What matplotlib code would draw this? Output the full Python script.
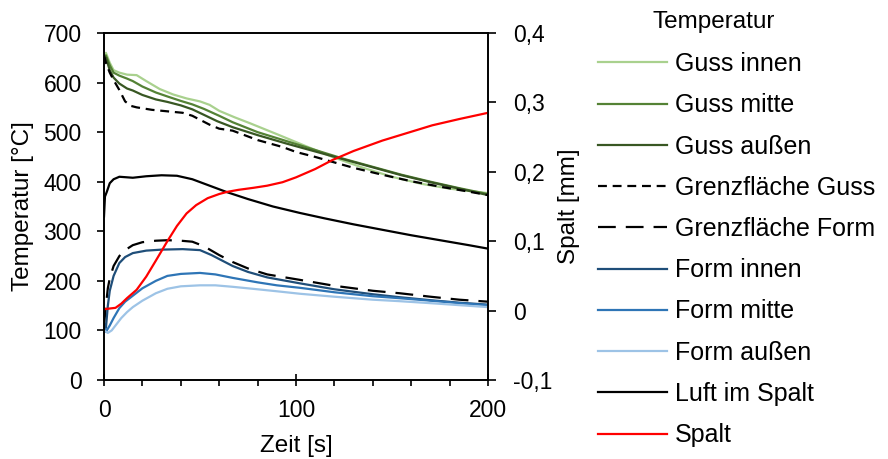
import matplotlib
matplotlib.use("Agg")
import matplotlib.pyplot as plt
from matplotlib.ticker import FuncFormatter, MultipleLocator

plt.rcParams['font.family'] = ['Liberation Sans', 'DejaVu Sans']

# ---- data ----
t_gi = [0, 1, 3, 5, 8, 12, 17, 22, 29, 36, 43, 50, 55, 60, 68, 76, 90, 105, 119, 135, 150, 165, 180, 200]
T_gi = [655, 660, 640, 625, 620, 616, 615, 603, 587, 576, 568, 562, 555, 543, 530, 518, 496, 472, 450, 428, 410, 396, 386, 377]

t_gm = [0, 1, 3, 5, 8, 12, 15, 20, 27, 33, 40, 46, 52, 60, 67, 80, 95, 110, 125, 140, 155, 170, 185, 200]
T_gm = [650, 655, 635, 620, 614, 608, 603, 592, 580, 572, 563, 556, 547, 533, 520, 500, 482, 464, 446, 430, 414, 400, 387, 375]

t_ga = [0, 1, 3, 5, 8, 12, 15, 20, 27, 33, 40, 46, 52, 59, 67, 80, 95, 110, 125, 140, 155, 170, 185, 200]
T_ga = [645, 650, 625, 610, 598, 588, 584, 575, 566, 561, 554, 546, 535, 522, 510, 494, 477, 461, 445, 429, 413, 399, 386, 373]

t_gfg = [0, 1, 3, 5, 8, 11, 14, 17, 25, 33, 41, 46, 50, 55, 60, 67, 80, 93, 100, 110, 119, 130, 145, 160, 175, 190, 200]
T_gfg = [655, 640, 620, 605, 585, 562, 553, 550, 545, 542, 539, 533, 525, 515, 507, 503, 484, 470, 460, 450, 440, 428, 414, 401, 390, 380, 373]

t_gff = [0, 1, 2, 3, 5, 8, 11, 15, 20, 27, 33, 40, 46, 52, 60, 67, 75, 85, 102, 120, 140, 154, 170, 185, 200]
T_gff = [110, 150, 185, 205, 230, 250, 262, 272, 278, 281, 282, 281, 279, 270, 252, 238, 225, 213, 202, 190, 180, 175, 168, 162, 158]

t_fi = [0, 1, 2, 3, 5, 8, 11, 15, 22, 30, 41, 50, 56, 62, 67, 75, 85, 102, 120, 140, 154, 170, 185, 200]
T_fi = [115, 105, 150, 180, 210, 236, 248, 256, 261, 263, 264, 262, 252, 240, 230, 218, 207, 195, 183, 173, 167, 161, 156, 152]

t_fm = [0, 1, 3, 5, 8, 11, 15, 20, 27, 33, 40, 50, 58, 67, 80, 90, 102, 120, 140, 154, 170, 185, 200]
T_fm = [105, 97, 110, 125, 145, 158, 170, 185, 200, 210, 214, 216, 213, 206, 197, 191, 186, 177, 169, 165, 160, 155, 151]

t_fa = [0, 2, 4, 6, 9, 12, 15, 20, 27, 33, 40, 50, 58, 67, 80, 90, 102, 120, 140, 154, 170, 185, 200]
T_fa = [100, 95, 100, 110, 125, 137, 147, 160, 175, 184, 189, 191, 191, 188, 183, 179, 174, 168, 162, 159, 155, 151, 147]

t_luft = [0, 0.5, 1.5, 3, 5, 8, 15, 22, 30, 38, 46, 55, 64, 75, 88, 102, 115, 130, 145, 160, 175, 190, 200]
T_luft = [330, 370, 380, 397, 405, 410, 408, 411, 413, 412, 405, 392, 379, 365, 350, 337, 326, 314, 303, 292, 282, 272, 265]

t_spalt = [0, 3, 6, 9, 12, 17, 22, 27, 33, 38, 43, 48, 54, 60, 64, 70, 78, 85, 93, 100, 110, 119, 130, 145, 158, 171, 185, 200]
spalt = [0.002, 0.003, 0.004, 0.010, 0.018, 0.030, 0.049, 0.072, 0.100, 0.122, 0.140, 0.152, 0.162, 0.168, 0.171, 0.174, 0.177, 0.180, 0.185, 0.192, 0.204, 0.217, 0.230, 0.245, 0.256, 0.267, 0.276, 0.285]

labels = ["Guss innen", "Guss mitte", "Guss außen", "Grenzfläche Guss", "Grenzfläche Form",
          "Form innen", "Form mitte", "Form außen", "Luft im Spalt", "Spalt"]
colors = ["#A9D18E", "#548235", "#385723", "black", "black",
          "#1F4E79", "#2E75B6", "#9DC3E6", "black", "#FF0000"]

FS_T = 16.5   # tick labels
FS = 17.5     # axis labels
FS_L = 18.0   # legend
LW = 1.6
dash_g = (0, (4.0, 2.6))
dash_f = (0, (8.0, 4.5))

fig = plt.figure(figsize=(8.88, 4.59), dpi=100)
ax = fig.add_axes([104/888, 1-380/459, (488-104)/888, (380-33)/459])

series = [(t_gi, T_gi), (t_gm, T_gm), (t_ga, T_ga), (t_gfg, T_gfg), (t_gff, T_gff),
          (t_fi, T_fi), (t_fm, T_fm), (t_fa, T_fa), (t_luft, T_luft)]
styles = ['-', '-', '-', dash_g, dash_f, '-', '-', '-', '-']
handles = []
for (x, y), c, ls, lab in zip(series, colors[:9], styles, labels[:9]):
    h, = ax.plot(x, y, color=c, lw=LW, ls=ls, label=lab)
    handles.append(h)

ax.set_xlim(0, 200)
ax.set_ylim(0, 700)
ax.xaxis.set_major_locator(MultipleLocator(100))
ax.xaxis.set_minor_locator(MultipleLocator(20))
ax.yaxis.set_major_locator(MultipleLocator(100))
ax.tick_params(axis='x', which='major', direction='inout', length=8, width=1.2, labelsize=FS_T, pad=10)
ax.tick_params(axis='x', which='minor', direction='out', length=4, width=1.2)
ax.tick_params(axis='y', direction='out', length=5, width=1.2, labelsize=FS_T, pad=11)
for s in ax.spines.values():
    s.set_linewidth(1.2)
ax.set_xlabel("Zeit [s]", fontsize=FS, labelpad=9)
ax.set_ylabel("Temperatur [°C]", fontsize=FS, labelpad=7)


def comma_fmt(v, p):
    if abs(v) < 1e-9:
        return "0"
    return f"{v:.1f}".replace('.', ',')


ax2 = ax.twinx()
h, = ax2.plot(t_spalt, spalt, color=colors[9], lw=LW, label=labels[9])
handles.append(h)
ax2.set_ylim(-0.1, 0.4)
ax2.yaxis.set_major_locator(MultipleLocator(0.1))
ax2.yaxis.set_major_formatter(FuncFormatter(comma_fmt))
ax2.tick_params(axis='y', direction='out', length=6, width=1.2, labelsize=FS_T, pad=12)
ax2.set_ylabel("Spalt [mm]", fontsize=FS, labelpad=4)
for s in ax2.spines.values():
    s.set_linewidth(1.2)

leg = fig.legend(handles=handles, labels=labels, loc='upper left',
                 bbox_to_anchor=(598/888, 1-52/459), frameon=False,
                 fontsize=FS_L, handlelength=2.76, handletextpad=0.3,
                 labelspacing=0.69, borderpad=0, borderaxespad=0)
fig.text(714/888, 1-22/459, "Temperatur", fontsize=FS, ha='center', va='center')

fig.savefig("out.png", dpi=100)
